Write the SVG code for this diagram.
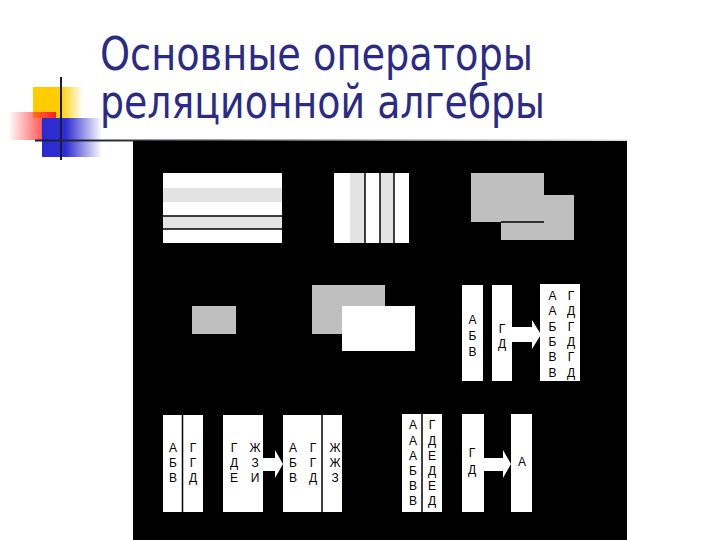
<svg xmlns="http://www.w3.org/2000/svg" width="720" height="540" viewBox="0 0 720 540">
<defs>
<linearGradient id="gY" x1="0" y1="0" x2="1" y2="0"><stop offset="0" stop-color="#ffcc00"/><stop offset="0.55" stop-color="#ffcc00"/><stop offset="1" stop-color="#ffcc00" stop-opacity="0"/></linearGradient>
<linearGradient id="gR" x1="0" y1="0" x2="1" y2="0"><stop offset="0" stop-color="#ff3333" stop-opacity="0"/><stop offset="0.9" stop-color="#ff2a2a"/><stop offset="1" stop-color="#ff2020"/></linearGradient>
<linearGradient id="gB" x1="0" y1="0" x2="1" y2="0"><stop offset="0" stop-color="#2a2ad0"/><stop offset="0.4" stop-color="#3030d0"/><stop offset="1" stop-color="#3030d0" stop-opacity="0"/></linearGradient>
<linearGradient id="gL" x1="0" y1="0" x2="1" y2="0"><stop offset="0" stop-color="#1a1a40"/><stop offset="0.3" stop-color="#444"/><stop offset="1" stop-color="#e0e0e0"/></linearGradient>
</defs>
<style>
.ttl{font-family:"DejaVu Sans Condensed","DejaVu Sans","Liberation Sans",sans-serif;font-size:46px;fill:#2b2b86}
.t{font-family:"Liberation Sans",Arial,sans-serif;font-size:12px;fill:#000;text-anchor:middle}
.w{fill:#fff}
.g{fill:#bfbfbf}
.lg{fill:#e3e3e3}
.ln{stroke:#000;stroke-width:1.5;fill:none}
</style>
<rect width="720" height="540" fill="#fff"/>
<g id="logo">
<rect x="33" y="87" width="50" height="31" fill="url(#gY)"/>
<rect x="8" y="112" width="48" height="28" fill="url(#gR)"/>
<rect x="42" y="118" width="60" height="39" fill="url(#gB)"/>
<line x1="61" y1="77" x2="61" y2="160" stroke="#1a1a48" stroke-width="2"/>
</g>
<rect x="35" y="139.5" width="592" height="2" fill="url(#gL)"/>
<g id="title">
<text class="ttl" x="100" y="70" textLength="433" lengthAdjust="spacingAndGlyphs">Основные операторы</text>
<text class="ttl" x="100" y="118" textLength="445" lengthAdjust="spacingAndGlyphs">реляционной алгебры</text>
</g>
<rect id="panel" x="133" y="141" width="494" height="399" fill="#000"/>
<g id="selection">
<rect class="w" x="163" y="173" width="119" height="70"/>
<rect class="lg" x="163" y="188" width="119" height="14"/>
<rect class="lg" x="163" y="216" width="119" height="13"/>
<line class="ln" x1="163" y1="216" x2="282" y2="216"/>
<line class="ln" x1="163" y1="229" x2="282" y2="229"/>
</g>
<g id="projection">
<rect class="w" x="334" y="173" width="75" height="70"/>
<rect class="lg" x="350" y="173" width="15" height="70"/>
<rect class="lg" x="380" y="173" width="14" height="70"/>
<line class="ln" x1="365" y1="173" x2="365" y2="243"/>
<line class="ln" x1="380" y1="173" x2="380" y2="243"/>
<line class="ln" x1="394" y1="173" x2="394" y2="243"/>
</g>
<g id="join">
<rect class="g" x="471" y="173" width="73" height="49"/>
<rect class="g" x="501" y="195" width="73" height="45"/>
<line class="ln" x1="501" y1="222" x2="544" y2="222" stroke-width="1"/>
</g>
<g id="intersect-small">
<rect class="g" x="192" y="306" width="44" height="28"/>
</g>
<g id="difference">
<rect class="g" x="312" y="285" width="73" height="49"/>
<rect class="w" x="342" y="306" width="73" height="45"/>
</g>
<g id="product-a">
<rect class="w" x="462" y="285" width="21" height="96"/>
<text class="t" x="472.5" y="324">А</text>
<text class="t" x="472.5" y="340">Б</text>
<text class="t" x="472.5" y="356">В</text>
</g>
<g id="product-b">
<rect class="w" x="492" y="285" width="20" height="96"/>
<text class="t" x="502" y="333">Г</text>
<text class="t" x="502" y="348">Д</text>
</g>
<g id="product-result">
<rect class="w" x="540" y="284" width="40" height="97"/>
<text class="t" x="552.5" y="300">А</text>
<text class="t" x="552.5" y="315">А</text>
<text class="t" x="552.5" y="331">Б</text>
<text class="t" x="552.5" y="346">Б</text>
<text class="t" x="552.5" y="361">В</text>
<text class="t" x="552.5" y="377">В</text>
<text class="t" x="571" y="300">Г</text>
<text class="t" x="571" y="315">Д</text>
<text class="t" x="571" y="331">Г</text>
<text class="t" x="571" y="346">Д</text>
<text class="t" x="571" y="361">Г</text>
<text class="t" x="571" y="377">Д</text>
</g>
<g id="join-a">
<rect class="w" x="163" y="415" width="40" height="97"/>
<line class="ln" x1="182.5" y1="415" x2="182.5" y2="512" stroke-width="1.2"/>
<text class="t" x="173" y="452">А</text>
<text class="t" x="173" y="467">Б</text>
<text class="t" x="173" y="482">В</text>
<text class="t" x="193" y="452">Г</text>
<text class="t" x="193" y="467">Г</text>
<text class="t" x="193" y="482">Д</text>
</g>
<g id="join-b">
<rect class="w" x="223" y="415" width="40" height="97"/>
<text class="t" x="234" y="452">Г</text>
<text class="t" x="234" y="467">Д</text>
<text class="t" x="234" y="482">Е</text>
<text class="t" x="255" y="452">Ж</text>
<text class="t" x="255" y="467">З</text>
<text class="t" x="255" y="482">И</text>
</g>
<g id="join-result">
<rect class="w" x="283" y="415" width="59" height="97"/>
<line class="ln" x1="322" y1="415" x2="322" y2="512" stroke-width="1.2"/>
<text class="t" x="293" y="452">А</text>
<text class="t" x="293" y="467">Б</text>
<text class="t" x="293" y="482">В</text>
<text class="t" x="313" y="452">Г</text>
<text class="t" x="313" y="467">Г</text>
<text class="t" x="313" y="482">Д</text>
<text class="t" x="335" y="452">Ж</text>
<text class="t" x="335" y="467">Ж</text>
<text class="t" x="335" y="482">З</text>
</g>
<g id="divide-a">
<rect class="w" x="402" y="414" width="40" height="98"/>
<line class="ln" x1="422" y1="414" x2="422" y2="512" stroke-width="1.2"/>
<text class="t" x="413" y="429">А</text>
<text class="t" x="413" y="445">А</text>
<text class="t" x="413" y="460">А</text>
<text class="t" x="413" y="475">Б</text>
<text class="t" x="413" y="490">В</text>
<text class="t" x="413" y="505">В</text>
<text class="t" x="432" y="429">Г</text>
<text class="t" x="432" y="445">Д</text>
<text class="t" x="432" y="460">Е</text>
<text class="t" x="432" y="475">Д</text>
<text class="t" x="432" y="490">Е</text>
<text class="t" x="432" y="505">Д</text>
</g>
<g id="divide-b">
<rect class="w" x="462" y="414" width="22" height="98"/>
<text class="t" x="472" y="457">Г</text>
<text class="t" x="472" y="474">Д</text>
</g>
<g id="divide-result">
<rect class="w" x="511" y="414" width="21" height="98"/>
<text class="t" x="522" y="466">А</text>
</g>
<g id="connectors" fill="#fff">
<path d="M512,327 H532 V320 L541,334.5 L532,349 V342 H512 Z"/>
<path d="M263,458 H275 V450 L283,464 L275,478 V471 H263 Z"/>
<path d="M484,458 H503 V450 L511,464 L503,478 V471 H484 Z"/>
</g>
</svg>
